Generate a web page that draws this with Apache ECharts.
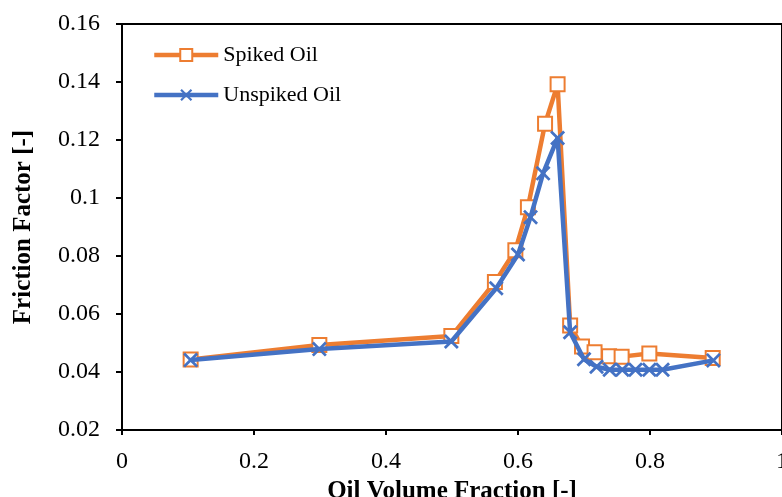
<!DOCTYPE html>
<html>
<head>
<meta charset="utf-8">
<script src="https://cdn.jsdelivr.net/npm/echarts@6/dist/echarts.min.js"></script>
<style>html,body{margin:0;padding:0;background:#fff;}#c{width:782px;height:497px;}</style>
</head>
<body>
<div id="c"></div>
<script>
const spikedX = [0.104, 0.299, 0.499, 0.565, 0.596, 0.615, 0.641, 0.660, 0.679, 0.697, 0.716, 0.738, 0.757, 0.799, 0.895];
const spikedY = [0.0443, 0.0493, 0.0524, 0.0710, 0.0820, 0.0968, 0.1256, 0.1392, 0.0560, 0.0488, 0.0468, 0.0454, 0.0453, 0.0464, 0.0448];
const unspikedX = [0.104, 0.299, 0.499, 0.567, 0.600, 0.619, 0.638, 0.660, 0.679, 0.700, 0.719, 0.739, 0.758, 0.778, 0.799, 0.819, 0.896];
const unspikedY = [0.0441, 0.0479, 0.0505, 0.0689, 0.0805, 0.0934, 0.1085, 0.1207, 0.0537, 0.0444, 0.0418, 0.0408, 0.0408, 0.0408, 0.0408, 0.0408, 0.0440];
const seriesNames = ['Spiked Oil', 'Unspiked Oil'];
const xTitle = 'Oil Volume Fraction [-]';
const yTitle = 'Friction Factor [-]';

const serif = '"Liberation Serif", "Times New Roman", serif';
const crossPath = 'path://M0,1.3 L1.3,0 L5,3.7 L8.7,0 L10,1.3 L6.3,5 L10,8.7 L8.7,10 L5,6.3 L1.3,10 L0,8.7 L3.7,5 Z';

const chart = echarts.init(document.getElementById('c'), null, {renderer: 'canvas'});
chart.setOption({
  animation: false,
  backgroundColor: '#fff',
  grid: {left: 122, right: 0, top: 24, bottom: 67, containLabel: false, outerBoundsMode: 'none',
         show: true, borderColor: '#000', borderWidth: 2, backgroundColor: 'transparent'},
  legend: {
    orient: 'vertical', left: 147, top: 39, itemWidth: 64, itemHeight: 15, itemGap: 18,
    textStyle: {fontFamily: serif, fontSize: 22, color: '#000'},
    lineStyle: {width: 4.5},
    data: seriesNames
  },
  xAxis: {
    type: 'value', min: 0, max: 1, interval: 0.2,
    name: xTitle, nameLocation: 'middle', nameGap: 45,
    nameTextStyle: {fontFamily: serif, fontSize: 25, fontWeight: 'bold', color: '#000'},
    axisLine: {show: true, lineStyle: {color: '#000', width: 2}},
    axisTick: {show: true, length: 5, lineStyle: {color: '#000', width: 2}},
    axisLabel: {fontFamily: serif, fontSize: 24, color: '#000', margin: 20, formatter: v => String(parseFloat(v.toFixed(2)))},
    splitLine: {show: false}
  },
  yAxis: {
    type: 'value', min: 0.02, max: 0.16, interval: 0.02,
    name: yTitle, nameLocation: 'middle', nameGap: 86,
    nameTextStyle: {fontFamily: serif, fontSize: 25, fontWeight: 'bold', color: '#000'},
    axisLine: {show: true, lineStyle: {color: '#000', width: 2}},
    axisTick: {show: true, length: 6, lineStyle: {color: '#000', width: 2}},
    axisLabel: {fontFamily: serif, fontSize: 24, color: '#000', margin: 22, formatter: v => String(parseFloat(v.toFixed(2)))},
    splitLine: {show: false}
  },
  series: [
    {
      name: seriesNames[0], type: 'line',
      data: spikedX.map((x, i) => [x, spikedY[i]]),
      symbol: 'rect', symbolSize: 14, showAllSymbol: true,
      lineStyle: {color: '#ED7D31', width: 4.5},
      itemStyle: {color: '#fff', borderColor: '#ED7D31', borderWidth: 2},
      z: 2
    },
    {
      name: seriesNames[1], type: 'line',
      data: unspikedX.map((x, i) => [x, unspikedY[i]]),
      symbol: crossPath, symbolSize: 15, showAllSymbol: true,
      lineStyle: {color: '#4472C4', width: 4.5},
      itemStyle: {color: '#4472C4', borderColor: '#4472C4', borderWidth: 0},
      z: 3
    }
  ]
});
</script>
</body>
</html>
